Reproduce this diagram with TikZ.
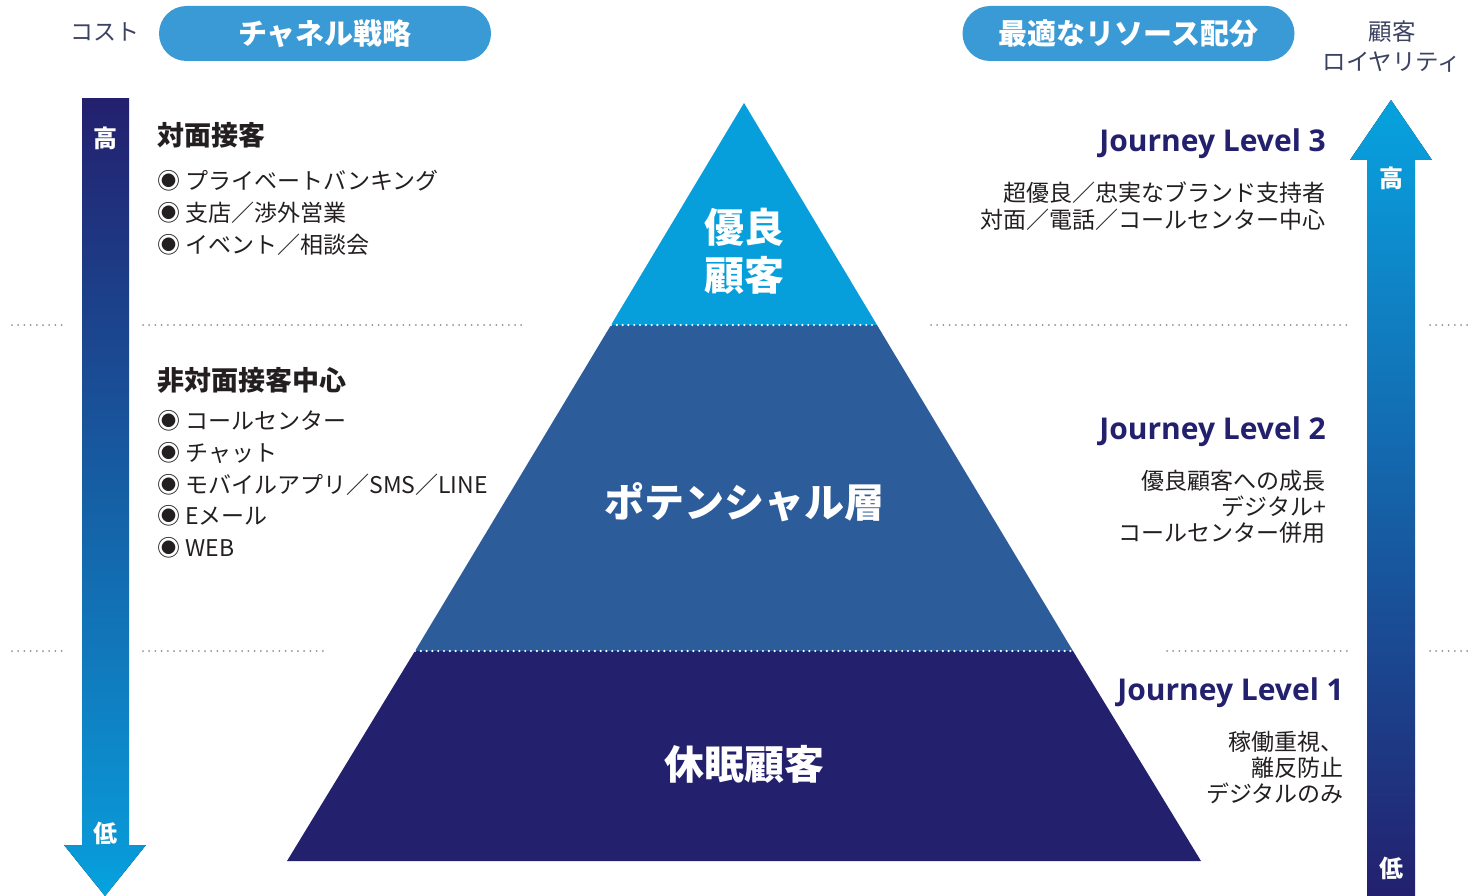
\documentclass[tikz,border=0pt]{standalone}
\usepackage{fontspec}
\setmainfont{Noto Sans CJK JP}
\newfontfamily\jlfont{Open Sans}
\definecolor{pillblue}{HTML}{3A9AD5}
\definecolor{topblue}{HTML}{079FDB}
\definecolor{midblue}{HTML}{2D5C9B}
\definecolor{navy}{HTML}{23206E}
\definecolor{txt}{HTML}{231F20}
\definecolor{slate}{HTML}{3B4262}
\definecolor{dotgrey}{HTML}{8A909C}
\definecolor{lmid}{HTML}{2D5597}
\definecolor{lbot}{HTML}{0A97D6}
\definecolor{lhtop}{HTML}{0A96D5}
\definecolor{lhbot}{HTML}{04A4E0}
\definecolor{rtop}{HTML}{0A99D8}
\definecolor{rmid}{HTML}{2160A6}
\definecolor{rhtop}{HTML}{05A2DE}
\tikzset{
  pill/.style={fill=pillblue, text=white, rounded corners=27.5pt, minimum width=332pt, minimum height=55pt, inner sep=0pt, font=\fontsize{29}{32}\selectfont\bfseries},
  pyrlabel/.style={text=white, font=\fontsize{40}{48}\selectfont\bfseries, align=center, inner sep=0pt},
  head/.style={anchor=west, text=txt, inner sep=0pt, font=\fontsize{27}{30}\selectfont\bfseries},
  item/.style={anchor=west, text=txt, inner sep=0pt, font=\fontsize{23}{26}\selectfont},
  level/.style={anchor=east, text=navy, inner sep=0pt, font=\jlfont\fontsize{30}{34}\selectfont\bfseries},
  desc/.style={anchor=north east, text=txt, inner sep=0pt, align=right, font=\fontsize{23}{26.2}\selectfont},
  arrowtxt/.style={text=white, inner sep=0pt, font=\fontsize{24}{26}\selectfont\bfseries},
  greydots/.style={draw=dotgrey, line width=2pt, line cap=round, dash pattern=on 0pt off 6.2pt},
  whitedots/.style={draw=white, line width=2.4pt, line cap=round, dash pattern=on 0pt off 5.8pt},
}
\begin{document}
\begin{tikzpicture}[x=1pt,y=-1pt]
\useasboundingbox (0,0) rectangle (1483,896);
% pyramid
\coordinate (apex) at (744,103);
\coordinate (l1) at (611,325); \coordinate (r1) at (877,325);
\coordinate (l2) at (415,651); \coordinate (r2) at (1073,651);
\coordinate (l3) at (287,861); \coordinate (r3) at (1201,861);
\fill[topblue] (apex) -- (r1) -- (l1) -- cycle;
\fill[midblue] (l1) -- (r1) -- (r2) -- (l2) -- cycle;
\fill[navy] (l2) -- (r2) -- (r3) -- (l3) -- cycle;
\draw[whitedots] (l1) -- (r1);
\draw[whitedots] (l2) -- (r2);
\node[pyrlabel] (good) at (744,251) {優良\\顧客};
\node[pyrlabel] (pot) at (744,502) {ポテンシャル層};
\node[pyrlabel] (dorm) at (744,764) {休眠顧客};
% grey dotted separators
\coordinate (ga1) at (12,325); \coordinate (ga2) at (64,325);
\coordinate (gb1) at (143,325); \coordinate (gb2) at (527,325);
\coordinate (gc1) at (931,325); \coordinate (gc2) at (1350,325);
\coordinate (gd1) at (1430,325); \coordinate (gd2) at (1473,325);
\coordinate (ge1) at (12,651); \coordinate (ge2) at (64,651);
\coordinate (gf1) at (143,651); \coordinate (gf2) at (327,651);
\coordinate (gg1) at (1167,651); \coordinate (gg2) at (1350,651);
\coordinate (gh1) at (1430,651); \coordinate (gh2) at (1473,651);
\foreach \a/\b in {ga1/ga2,gb1/gb2,gc1/gc2,gd1/gd2,ge1/ge2,gf1/gf2,gg1/gg2,gh1/gh2}
  \draw[greydots] (\a) -- (\b);
% left arrow
\fill[top color=navy, middle color=lmid, bottom color=lbot] (82,99) rectangle (129,846);
\fill[top color=lhtop, bottom color=lhbot] (64,845) -- (146,845) -- (105,896) -- cycle;
\node[arrowtxt] (lhigh) at (105,138) {高};
\node[arrowtxt] (llow) at (105,833) {低};
% right arrow
\fill[top color=rtop, middle color=rmid, bottom color=navy] (1367,159) rectangle (1415,896);
\fill[top color=rhtop, bottom color=rtop] (1350,160) -- (1432,160) -- (1391,100) -- cycle;
\node[arrowtxt] (rhigh) at (1391,178) {高};
\node[arrowtxt] (rlow) at (1391,868) {低};
% top labels
\node[pill] (chan) at (325,33.5) {チャネル戦略};
\node[pill] (res) at (1128.5,33.5) {最適なリソース配分};
\node[text=slate, inner sep=0pt, font=\fontsize{23}{26}\selectfont] (cost) at (105,32) {コスト};
\node[text=slate, inner sep=0pt, align=center, font=\fontsize{23.5}{30}\selectfont] (loy) at (1392,47) {顧客\\ロイヤリティ};
% left texts
\node[head] (face) at (157,135) {対面接客};
\node[item] (i1) at (157,181) {◉ プライベートバンキング};
\node[item] (i2) at (157,213) {◉ 支店／渉外営業};
\node[item] (i3) at (157,245) {◉ イベント／相談会};
\node[head] (nonface) at (157,380) {非対面接客中心};
\node[item] (j1) at (157,421) {◉ コールセンター};
\node[item] (j2) at (157,453) {◉ チャット};
\node[item] (j3) at (157,485) {◉ モバイルアプリ／SMS／LINE};
\node[item] (j4) at (157,516) {◉ Eメール};
\node[item] (j5) at (157,548) {◉ WEB};
% right texts
\node[level] (jl3) at (1326,144) {Journey Level 3};
\node[desc] (d3) at (1326,182) {超優良／忠実なブランド支持者\\対面／電話／コールセンター中心};
\node[level] (jl2) at (1326,432) {Journey Level 2};
\node[desc] (d2) at (1326,470) {優良顧客への成長\\デジタル+\\コールセンター併用};
\node[level] (jl1) at (1344,693) {Journey Level 1};
\node[desc] (d1) at (1344,731) {稼働重視、\\離反防止\\デジタルのみ};
\end{tikzpicture}
\end{document}
